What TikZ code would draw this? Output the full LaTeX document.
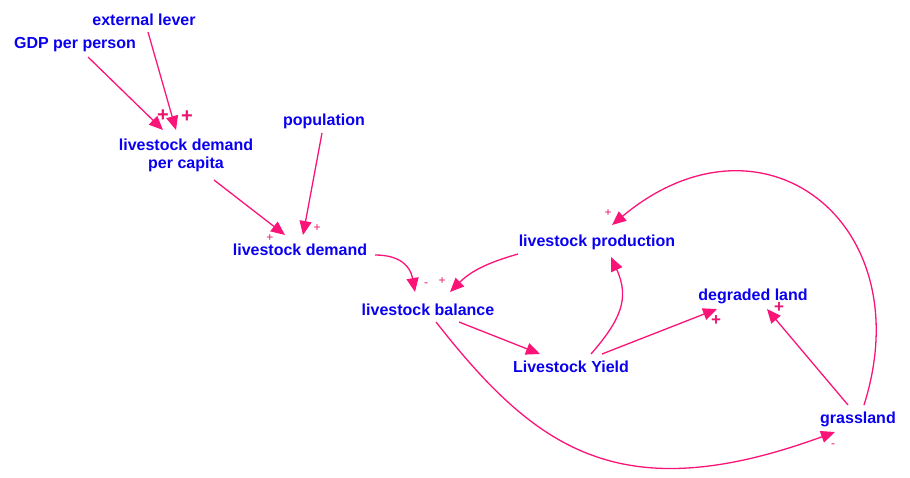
\documentclass[tikz,border=0pt]{standalone}
\usepackage{fontspec}
\setmainfont{Liberation Sans}
\usetikzlibrary{arrows.meta}
\definecolor{lnk}{RGB}{250,20,120}
\definecolor{sgn}{RGB}{235,20,110}
\definecolor{txt}{RGB}{10,0,240}
\tikzset{
  var/.style={inner sep=0pt, text=txt, font=\bfseries\fontsize{16}{18}\selectfont, align=center},
  link/.style={draw=lnk, line width=1.3pt, -{Triangle[length=14pt,width=12pt]}},
  bigsign/.style={inner sep=0pt, text=sgn, font=\bfseries\fontsize{20}{20}\selectfont},
  midsign/.style={inner sep=0pt, text=sgn, font=\bfseries\fontsize{17}{17}\selectfont},
  smallsign/.style={inner sep=0pt, text=sgn, font=\fontsize{12}{12}\selectfont}
}
\begin{document}
\begin{tikzpicture}[x=1pt,y=1pt]
\useasboundingbox (0,0) rectangle (910,-477);
% variables
\node[var] (gdp) at (75,-45) {GDP per person};
\node[var] (ext) at (144,-20) {external lever};
\node[var] (ldpc) at (186,-155) {livestock demand\\per capita};
\node[var] (pop) at (324,-121) {population};
\node[var] (ld) at (300,-250) {livestock demand};
\node[var] (lb) at (428,-310) {livestock balance};
\node[var] (lp) at (597,-242) {livestock production};
\node[var] (dl) at (753,-296) {degraded land};
\node[var] (ly) at (571,-367) {Livestock Yield};
\node[var] (gr) at (858,-419) {grassland};
% links
\draw[link] ([shift={(13,-12)}]gdp.center) -- ([shift={(-23,25)}]ldpc.center);
\draw[link] ([shift={(4,-12)}]ext.center) -- ([shift={(-10,25)}]ldpc.center);
\draw[link] ([shift={(28,-25)}]ldpc.center) -- ([shift={(-15,15)}]ld.center);
\draw[link] ([shift={(-2,-12)}]pop.center) -- ([shift={(3,15)}]ld.center);
\draw[link] ([shift={(75,-5)}]ld.center) to[out=0,in=100,looseness=1.2] ([shift={(-13,18)}]lb.center);
\draw[link] ([shift={(-79,-12)}]lp.center) to[out=196,in=45] ([shift={(22,18)}]lb.center);
\draw[link] ([shift={(31,-12)}]lb.center) -- ([shift={(-31,13)}]ly.center);
\draw[link] ([shift={(20,13)}]ly.center) .. controls (620.5,-320) and (630,-298.5) .. ([shift={(14,-15)}]lp.center);
\draw[link] ([shift={(31,13)}]ly.center) -- ([shift={(-36,-13)}]dl.center);
\draw[link] ([shift={(-10,14)}]gr.center) -- ([shift={(14,-13)}]dl.center);
\draw[link] ([shift={(6,14)}]gr.center) .. controls (922,-222) and (762,-100) .. ([shift={(15,17)}]lp.center);
\draw[link] ([shift={(8,-12)}]lb.center) .. controls (535,-448) and (619,-511) .. ([shift={(-23,-13)}]gr.center);
% polarities
\node[bigsign] (s1) at (163,-116) {+};
\node[bigsign] (s2) at (187,-117) {+};
\node[smallsign] (s3) at (270,-238) {+};
\node[smallsign] (s4) at (317,-228) {+};
\node[smallsign] (s5) at (426,-285) {-};
\node[smallsign] (s6) at (442,-281) {+};
\node[smallsign] (s7) at (608,-213) {+};
\node[midsign] (s8) at (716,-321) {+};
\node[midsign] (s9) at (779,-308) {+};
\node[smallsign] (s10) at (833,-446) {-};
\end{tikzpicture}
\end{document}
